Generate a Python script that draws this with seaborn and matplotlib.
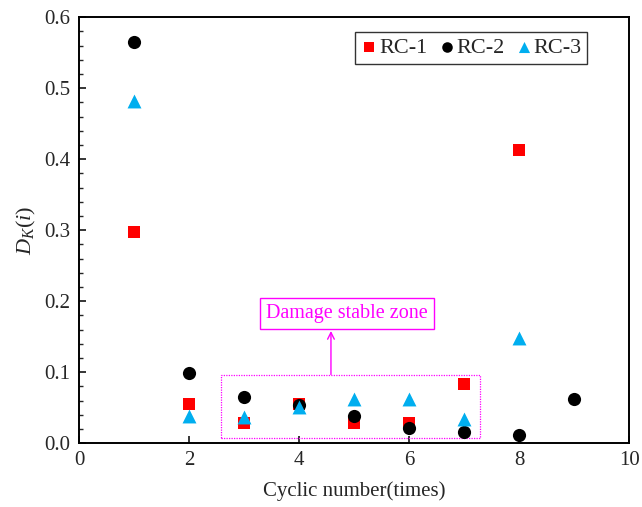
import matplotlib
matplotlib.use("Agg")
import matplotlib.pyplot as plt
from matplotlib.ticker import MultipleLocator, FormatStrFormatter
from matplotlib.patches import Rectangle
import seaborn as sns
import pandas as pd

# Damage index D_K(i) per loading cycle for each specimen
cycles_rc1 = [1, 2, 3, 4, 5, 6, 7, 8]
dk_rc1 = [0.298, 0.055, 0.028, 0.055, 0.028, 0.029, 0.083, 0.413]

cycles_rc2 = [1, 2, 3, 4, 5, 6, 7, 8, 9]
dk_rc2 = [0.565, 0.099, 0.065, 0.053, 0.038, 0.022, 0.016, 0.012, 0.062]

cycles_rc3 = [1, 2, 3, 4, 5, 6, 7, 8]
dk_rc3 = [0.482, 0.038, 0.037, 0.051, 0.062, 0.062, 0.034, 0.148]

specimens = ["RC-1", "RC-2", "RC-3"]

frames = []
for name, xs, ys in zip(specimens, [cycles_rc1, cycles_rc2, cycles_rc3],
                        [dk_rc1, dk_rc2, dk_rc3]):
    frames.append(pd.DataFrame({"cycle": xs, "dk": ys, "specimen": name}))
df = pd.concat(frames, ignore_index=True)

sns.set_style("ticks")
plt.rcParams["font.family"] = ["Liberation Serif", "DejaVu Serif"]
plt.rcParams["mathtext.fontset"] = "custom"
plt.rcParams["mathtext.rm"] = "Liberation Serif"
plt.rcParams["mathtext.it"] = "Liberation Serif:italic"

fig = plt.figure(figsize=(6.42, 5.07), dpi=100)
ax = fig.add_axes([0.123, 0.126, 0.857, 0.840])

palette = {"RC-1": "#ff0000", "RC-2": "#000000", "RC-3": "#00aeef"}
markers = {"RC-1": "s", "RC-2": "o", "RC-3": "^"}
sizes_map = {"RC-1": 80, "RC-2": 90, "RC-3": 100}

for name in specimens:
    sub = df[df["specimen"] == name]
    sns.scatterplot(data=sub, x="cycle", y="dk", color=palette[name],
                    marker=markers[name], s=sizes_map[name], linewidth=0,
                    label=name, ax=ax, zorder=3)

ax.set_xlim(0, 10)
ax.set_ylim(0, 0.6)
ax.xaxis.set_major_locator(MultipleLocator(2))
ax.yaxis.set_major_locator(MultipleLocator(0.1))
ax.yaxis.set_minor_locator(MultipleLocator(0.02))
ax.yaxis.set_major_formatter(FormatStrFormatter("%.1f"))

ax.tick_params(axis="both", which="major", direction="in", length=5,
               width=1.3, labelsize=15, pad=6, top=False, right=False)
ax.tick_params(axis="y", which="minor", direction="in", length=3,
               width=1.0, right=False)
for sp in ax.spines.values():
    sp.set_linewidth(1.4)
    sp.set_color("black")

ax.set_xlabel("Cyclic number(times)", fontsize=15, labelpad=8)
ax.set_ylabel("$D_K(i)$", fontsize=16, labelpad=5)

# Dotted frame around the stable cycles and its annotation
zone = Rectangle((2.59, 0.007), 7.28 - 2.59, 0.0966 - 0.007, fill=False,
                 edgecolor="#ff00ff", linestyle=(0, (1, 1)), linewidth=0.9,
                 zorder=2)
ax.add_patch(zone)
ax.annotate("", xy=(4.58, 0.158), xytext=(4.58, 0.0966),
            arrowprops=dict(arrowstyle="->", color="#ff00ff", lw=1.0,
                            shrinkA=0, shrinkB=0, mutation_scale=12))
ax.text(4.87, 0.182, "Damage stable zone", color="#ff00ff", fontsize=14.5,
        ha="center", va="center",
        bbox=dict(boxstyle="square,pad=0.3", facecolor="white",
                  edgecolor="#ff00ff", linewidth=1.0))

leg = ax.legend(loc="upper right", bbox_to_anchor=(0.924, 0.965), ncol=3,
                fontsize=16, frameon=True, fancybox=False, borderpad=0.25,
                handletextpad=0.05, columnspacing=0.45, handlelength=0.8,
                borderaxespad=0, markerscale=0.8)
leg.get_frame().set_edgecolor("black")
leg.get_frame().set_linewidth(1.0)

fig.savefig("out.png", dpi=100)
